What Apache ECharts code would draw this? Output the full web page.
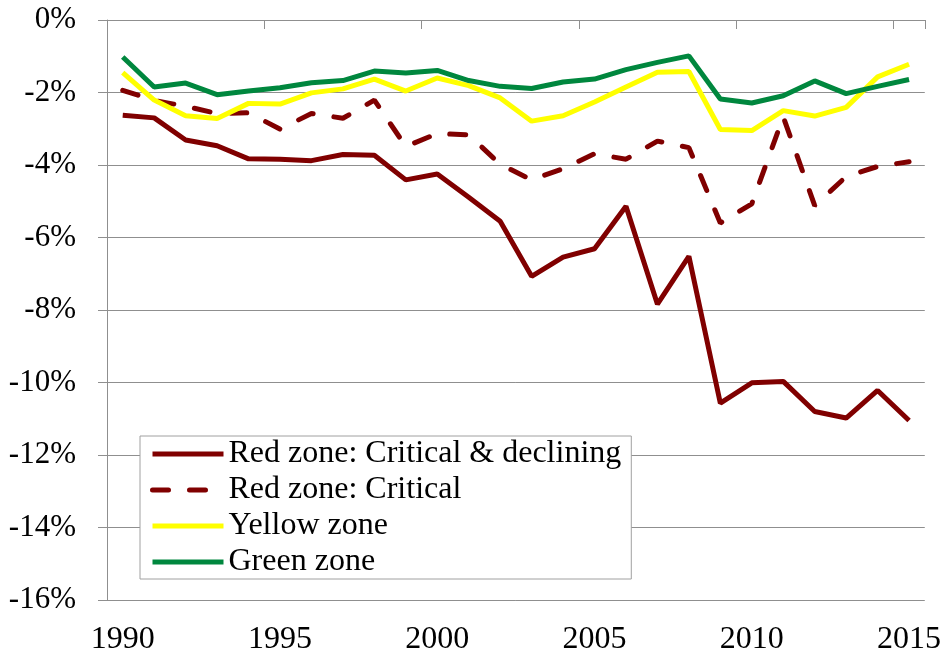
<!DOCTYPE html>
<html>
<head>
<meta charset="utf-8">
<script src="https://cdn.jsdelivr.net/npm/echarts@6/dist/echarts.min.js"></script>
<style>
  html, body { margin: 0; padding: 0; background: #fff; }
  #chart { width: 944px; height: 656px; }
</style>
</head>
<body>
<div id="chart"></div>
<script>
  // years on the x axis
  const years = []
  for (let y = 1990; y <= 2015; y++) years.push(String(y))

  // values in percent
  const redDeclining = [-2.63, -2.70, -3.31, -3.47, -3.83, -3.84, -3.88, -3.71, -3.73, -4.41,
    -4.25, -4.89, -5.55, -7.07, -6.54, -6.31, -5.14, -7.84, -6.52, -10.57,
    -10.01, -9.97, -10.80, -10.98, -10.22, -11.05]
  const redCritical = [-1.94, -2.22, -2.38, -2.58, -2.56, -3.01, -2.58, -2.71, -2.21, -3.49,
    -3.13, -3.17, -3.98, -4.41, -4.10, -3.69, -3.84, -3.34, -3.52, -5.60,
    -5.07, -2.67, -5.12, -4.32, -4.04, -3.91]
  const yellowZone = [-1.45, -2.21, -2.64, -2.72, -2.30, -2.32, -2.01, -1.90, -1.63, -1.96,
    -1.60, -1.81, -2.15, -2.79, -2.64, -2.26, -1.85, -1.44, -1.42, -3.02,
    -3.05, -2.50, -2.65, -2.41, -1.57, -1.22]
  const greenZone = [-1.02, -1.85, -1.74, -2.06, -1.96, -1.87, -1.73, -1.67, -1.41, -1.46,
    -1.39, -1.67, -1.83, -1.89, -1.71, -1.63, -1.37, -1.17, -0.99, -2.18,
    -2.29, -2.09, -1.68, -2.03, -1.83, -1.64]

  const font = 'Liberation Serif'
  const gridColor = '#8f8f8f'

  let chart = echarts.init(document.getElementById('chart'))

  let option = {
    animation: false,
    backgroundColor: '#fff',
    grid: { left: 107, right: 16, top: 20, bottom: 53 },
    legend: {
      orient: 'vertical',
      left: 140,
      top: 436,
      padding: [2, 10, 1, 10],
      itemWidth: 71,
      itemHeight: 10,
      itemGap: 4,
      backgroundColor: '#fff',
      borderColor: '#a0a0a0',
      borderWidth: 1,
      lineStyle: { width: 5 },
      itemStyle: { opacity: 0 },
      textStyle: { fontFamily: font, fontSize: 32, color: '#000' },
      data: ['Red zone: Critical & declining', 'Red zone: Critical', 'Yellow zone', 'Green zone']
    },
    xAxis: [
      {
        type: 'category',
        data: years,
        position: 'bottom',
        boundaryGap: true,
        axisLine: { show: false },
        axisTick: { show: false },
        axisLabel: {
          interval: 4,
          margin: 24,
          fontFamily: font,
          fontSize: 32,
          color: '#000'
        }
      },
      {
        type: 'category',
        data: years,
        position: 'top',
        boundaryGap: true,
        axisLine: { show: true, lineStyle: { color: gridColor, width: 1 } },
        axisTick: { show: true, inside: true, length: 9, interval: 4, lineStyle: { color: gridColor } },
        axisLabel: { show: false }
      }
    ],
    yAxis: {
      type: 'value',
      min: -16,
      max: 0,
      interval: 2,
      axisLine: { show: true, lineStyle: { color: gridColor, width: 1 } },
      axisTick: { show: true, length: 9, lineStyle: { color: gridColor } },
      splitLine: { show: true, lineStyle: { color: gridColor, width: 1 } },
      axisLabel: {
        margin: 31,
        fontFamily: font,
        fontSize: 31,
        color: '#000',
        formatter: v => v + '%'
      }
    },
    series: [
      {
        name: 'Red zone: Critical & declining',
        type: 'line',
        data: redDeclining,
        symbol: 'none',
        lineStyle: { color: '#800000', width: 5 },
        itemStyle: { color: '#800000' }
      },
      {
        name: 'Red zone: Critical',
        type: 'line',
        data: redCritical,
        symbol: 'none',
        lineStyle: { color: '#800000', width: 5, type: [16, 21], cap: 'round' },
        itemStyle: { color: '#800000' }
      },
      {
        name: 'Yellow zone',
        type: 'line',
        data: yellowZone,
        symbol: 'none',
        lineStyle: { color: '#ffff00', width: 5 },
        itemStyle: { color: '#ffff00' }
      },
      {
        name: 'Green zone',
        type: 'line',
        data: greenZone,
        symbol: 'none',
        lineStyle: { color: '#00873e', width: 5 },
        itemStyle: { color: '#00873e' }
      }
    ]
  }

  chart.setOption(option)
</script>
</body>
</html>
